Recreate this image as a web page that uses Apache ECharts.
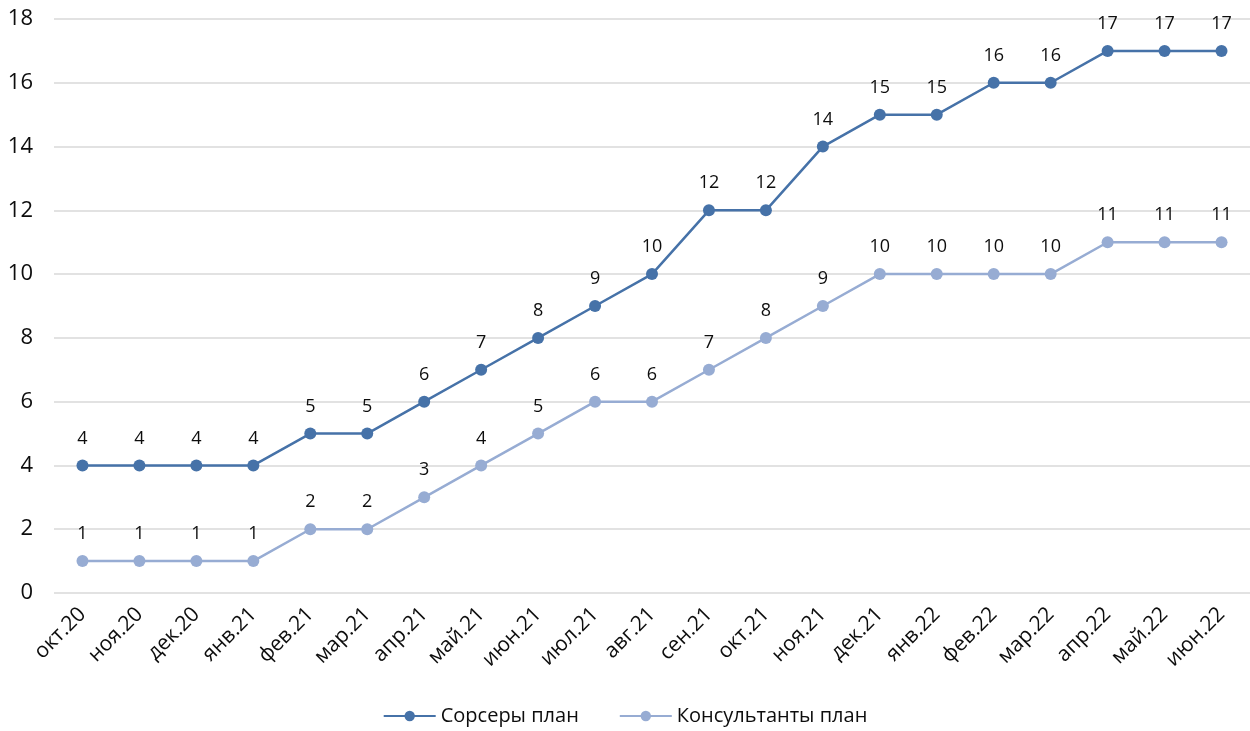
<!DOCTYPE html>
<html><head><meta charset="utf-8">
<script src="https://cdn.jsdelivr.net/npm/echarts@6/dist/echarts.min.js"></script>
<style>html,body{margin:0;padding:0;background:#fff}#c{width:1250px;height:731px}</style>
</head><body><div id="c"></div>
<script>
const categories = ['окт.20','ноя.20','дек.20','янв.21','фев.21','мар.21','апр.21','май.21','июн.21','июл.21','авг.21','сен.21','окт.21','ноя.21','дек.21','янв.22','фев.22','мар.22','апр.22','май.22','июн.22'];
const sourcers = [4,4,4,4,5,5,6,7,8,9,10,12,12,14,15,15,16,16,17,17,17];
const consultants = [1,1,1,1,2,2,3,4,5,6,6,7,8,9,10,10,10,10,11,11,11];
const seriesNames = ['Сорсеры план','Консультанты план'];
const FONT = '"Open Sans", sans-serif';
const TXT = '#0d0d0d';
const chart = echarts.init(document.getElementById('c'));
function mk(name, data, color){
  return {name, type:'line', data, symbol:'circle', symbolSize:12,
    lineStyle:{color, width:2.5}, itemStyle:{color},
    label:{show:true, position:'top', distance:12, color:TXT, fontSize:18, fontFamily:FONT},
    emphasis:{disabled:true}};
}
chart.setOption({
  animation:false,
  grid:{left:54, right:0, top:19, bottom:138},
  legend:{bottom:0, left:'center', itemWidth:52, itemHeight:13, itemGap:40,
    textStyle:{fontSize:20, color:TXT, fontFamily:FONT},
    data:seriesNames},
  xAxis:{type:'category', data:categories, boundaryGap:true,
    axisLine:{show:false}, axisTick:{show:false},
    axisLabel:{rotate:45, fontSize:21, color:TXT, fontFamily:FONT, margin:18, interval:0}},
  yAxis:{type:'value', min:0, max:18, interval:2,
    axisLine:{show:false}, axisTick:{show:false},
    axisLabel:{fontSize:22, color:TXT, fontFamily:FONT, margin:21},
    splitLine:{lineStyle:{color:'#d9d9d9', width:1.5}}},
  series:[mk(seriesNames[0], sourcers, '#4672A8'), mk(seriesNames[1], consultants, '#97ACD3')]
});
</script></body></html>
